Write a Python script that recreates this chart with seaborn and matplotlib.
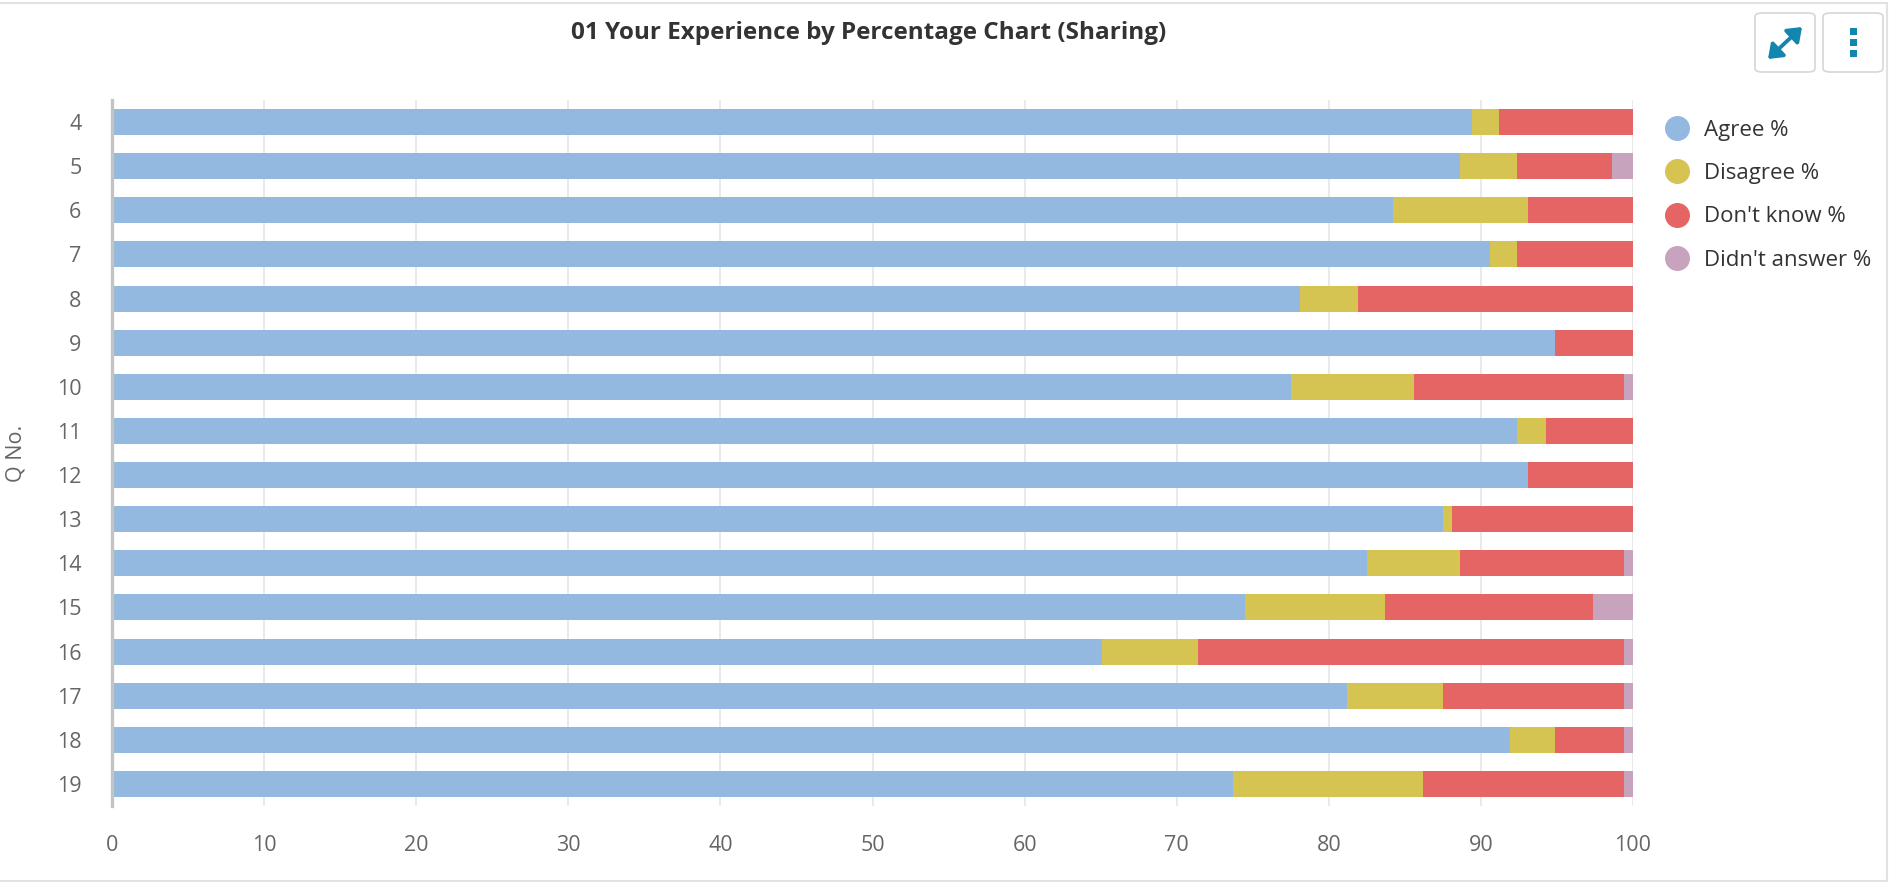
import numpy as np
import pandas as pd
import matplotlib
matplotlib.use("Agg")
import matplotlib.pyplot as plt
import seaborn as sns
from matplotlib.lines import Line2D
from matplotlib.patches import FancyBboxPatch, Rectangle, FancyArrowPatch

# =====================================================
# DATA
# =====================================================
q_no = ["4", "5", "6", "7", "8", "9", "10", "11", "12", "13", "14", "15", "16", "17", "18", "19"]
agree = [89.4, 88.6, 84.2, 90.6, 78.1, 94.9, 77.5, 92.4, 93.1, 87.5, 82.5, 74.5, 65.1, 81.2, 91.9, 73.7]
disagree = [1.8, 3.8, 8.9, 1.8, 3.8, 0.0, 8.1, 1.9, 0.0, 0.6, 6.1, 9.2, 6.3, 6.3, 3.0, 12.5]
dont_know = [8.8, 6.2, 6.9, 7.6, 18.1, 5.1, 13.8, 5.7, 6.9, 11.9, 10.8, 13.7, 28.0, 11.9, 4.5, 13.2]
didnt_answer = [0.0, 1.4, 0.0, 0.0, 0.0, 0.0, 0.6, 0.0, 0.0, 0.0, 0.6, 2.6, 0.6, 0.6, 0.6, 0.6]

series_names = ["Agree %", "Disagree %", "Don't know %", "Didn't answer %"]
series_colors = ["#94b9e1", "#d5c451", "#e56464", "#c7a3be"]
x_ticks = list(range(0, 101, 10))

df = pd.DataFrame({
    "q": q_no,
    "Agree %": agree,
    "Disagree %": disagree,
    "Don't know %": dont_know,
    "Didn't answer %": didnt_answer,
})

# cumulative totals so the stacked bars can be layered back to front
cum = df[series_names].cumsum(axis=1)

# =====================================================
# FIGURE
# =====================================================
sns.set_theme(style="white")
plt.rcParams["font.family"] = ["Open Sans", "DejaVu Sans"]

fig = plt.figure(figsize=(18.92, 8.82), dpi=100)
ax = fig.add_axes([112 / 1892, 1 - 806 / 882, (1633 - 112) / 1892, 706 / 882])

for name, color in reversed(list(zip(series_names, series_colors))):
    sns.barplot(x=cum[name], y=df["q"], order=q_no, orient="h",
                color=color, saturation=1, width=0.59, ax=ax,
                edgecolor="none", linewidth=0)

# =====================================================
# AXES STYLE
# =====================================================
ax.set_xlim(0, 100)
ax.set_ylim(len(q_no) - 0.5, -0.5)
ax.set_xticks(x_ticks)
ax.set_xlabel("")
ax.set_ylabel("Q No.", fontsize=15.5, color="#666666", labelpad=22)
ax.xaxis.grid(True, color="#e6e6e6", linewidth=1.2)
ax.set_axisbelow(True)
ax.tick_params(axis="x", length=0, pad=21, labelsize=15.5, labelcolor="#666666")
ax.tick_params(axis="y", length=0, pad=22, labelsize=15.5, labelcolor="#666666")
ax.set_yticks(np.arange(-0.5, len(q_no), 1), minor=True)
ax.tick_params(axis="y", which="minor", length=5, width=1, color="#ccd6eb")

for side in ["top", "right", "bottom"]:
    ax.spines[side].set_visible(False)
ax.spines["left"].set_color("#c4c4c4")
ax.spines["left"].set_linewidth(2.4)

# =====================================================
# TITLE / LEGEND
# =====================================================
fig.text(869 / 1892, 1 - 33 / 882, "01 Your Experience by Percentage Chart (Sharing)",
         ha="center", va="center", fontsize=17.5, fontweight="bold", color="#333333")

handles = [Line2D([0], [0], marker="o", linestyle="none", markersize=18,
                  markerfacecolor=c, markeredgecolor="none") for c in series_colors]
fig.legend(handles, series_names, loc="upper left",
           bbox_to_anchor=(1655 / 1892, 1 - 111 / 882), frameon=False,
           fontsize=16, labelcolor="#333333", handletextpad=0.62,
           labelspacing=1.0, handlelength=1.2, borderaxespad=0)

# =====================================================
# PANEL FRAME AND TOOL BUTTONS
# =====================================================
fig.patches.append(Rectangle((-0.01, 1 - 881 / 882), 1887 / 1892 + 0.01, 878 / 882,
                             transform=fig.transFigure, fill=False,
                             edgecolor="#e2e2e2", linewidth=1.5))

for x0 in [1755, 1823]:
    fig.patches.append(FancyBboxPatch((x0 / 1892, 1 - 72 / 882), 60 / 1892, 59 / 882,
                                      boxstyle="round,pad=0,rounding_size=0.004",
                                      transform=fig.transFigure, facecolor="white",
                                      edgecolor="#d6d6d6", linewidth=1.2, zorder=2))

icon = "#1386b0"
fig.add_artist(FancyArrowPatch(
    (1768 / 1892, 1 - 59 / 882), (1802 / 1892, 1 - 27 / 882),
    transform=fig.transFigure, arrowstyle="<|-|>,head_length=0.6,head_width=0.45",
    color=icon, linewidth=2.8, mutation_scale=13, shrinkA=0, shrinkB=0, zorder=5))
for yy in [31, 42, 53]:
    fig.add_artist(Rectangle((1850 / 1892, 1 - (yy + 4) / 882), 7 / 1892, 7 / 882,
                             transform=fig.transFigure, facecolor=icon,
                             edgecolor="none", zorder=5))

plt.savefig("out.png", dpi=100)
